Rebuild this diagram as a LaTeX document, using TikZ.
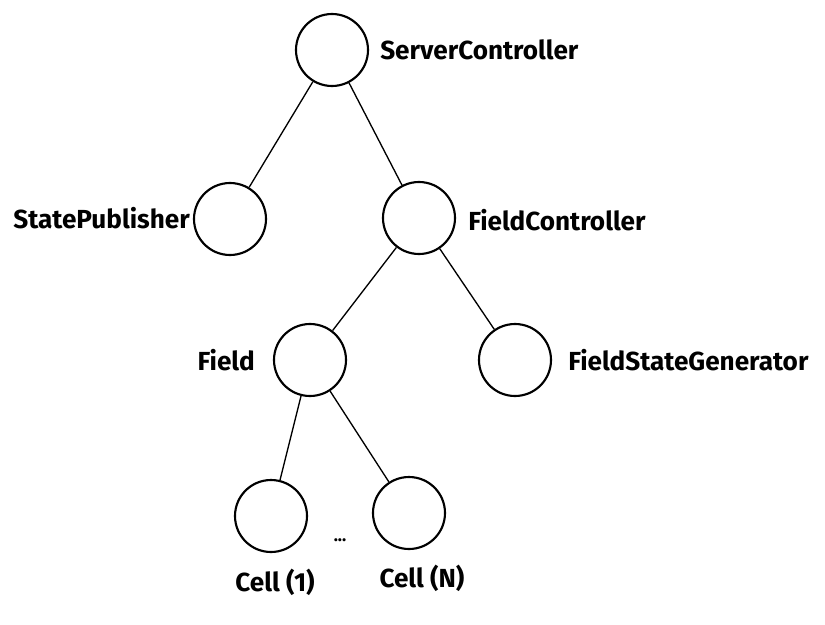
\documentclass[tikz,border=0pt]{standalone}
\usepackage{fontspec}
\setmainfont{Fira Sans}
\usetikzlibrary{positioning}

\tikzset{
  comp/.style={draw, circle, line width=1.6pt, minimum size=54pt, inner sep=0pt},
  lbl/.style={font=\bfseries\fontsize{19.6}{22}\selectfont, inner sep=0pt},
  link/.style={line width=1pt}
}

\begin{document}
\begin{tikzpicture}[x=0.75pt, y=-0.75pt]
  \useasboundingbox (0,0) rectangle (825,625);

  % components
  \node[comp] (server) at (332,50) {};
  \node[comp] (publisher) at (230,219) {};
  \node[comp] (fieldctl) at (419,218) {};
  \node[comp] (field) at (310,360) {};
  \node[comp] (generator) at (515,360) {};
  \node[comp] (cellone) at (271,516) {};
  \node[comp] (celln) at (409,513) {};

  % names
  \node[lbl, anchor=west] (serverlbl) at (380,50) {ServerController};
  \node[lbl, anchor=east] (publisherlbl) at (190,218) {StatePublisher};
  \node[lbl, anchor=west] (fieldctllbl) at (468,220) {FieldController};
  \node[lbl, anchor=east] (fieldlbl) at (255,360) {Field};
  \node[lbl, anchor=west] (generatorlbl) at (568,360) {FieldStateGenerator};
  \node[lbl] (cellonelbl) at (275,582) {Cell (1)};
  \node[lbl] (cellnlbl) at (422,578) {Cell (N)};
  \node[font=\bfseries\fontsize{13}{14}\selectfont, inner sep=0pt] (dots) at (340,540) {...};

  % tree
  \draw[link] (server) -- (publisher);
  \draw[link] (server) -- (fieldctl);
  \draw[link] (fieldctl) -- (field);
  \draw[link] (fieldctl) -- (generator);
  \draw[link] (field) -- (cellone);
  \draw[link] (field) -- (celln);
\end{tikzpicture}
\end{document}
